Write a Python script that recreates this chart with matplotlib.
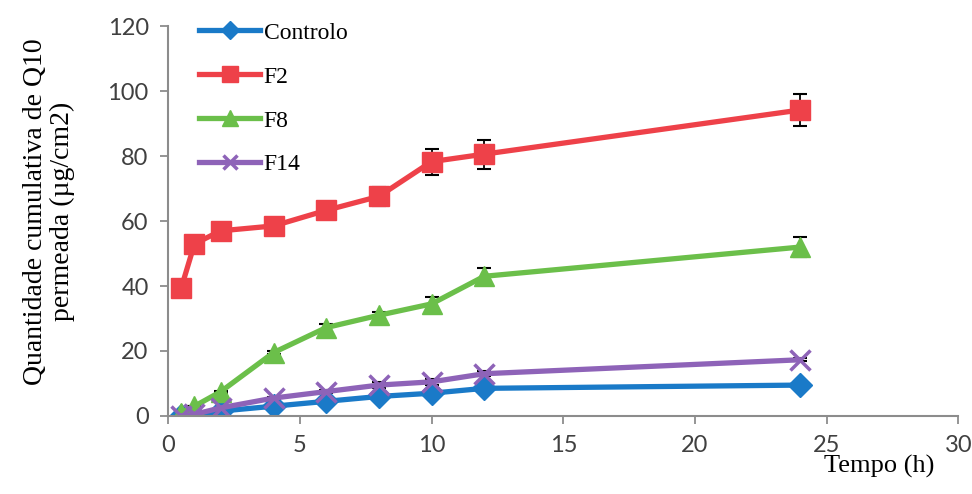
"""Quantidade cumulativa de Q10 permeada vs tempo"""

import matplotlib.pyplot as plt

tempo = [0.5, 1, 2, 4, 6, 8, 10, 12, 24]

controlo = [0.0, 0.3, 1.5, 3.0, 4.5, 6.0, 7.0, 8.5, 9.5]
controlo_err = [0, 0, 0, 0, 0.3, 0.4, 0.5, 0.5, 0.5]

f2 = [39.5, 53.0, 57.0, 58.5, 63.3, 67.6, 78.3, 80.6, 94.2]
f2_err = [0.5, 0.8, 1.0, 1.2, 2.5, 3.0, 4.0, 4.5, 4.8]

f8 = [1.0, 3.0, 7.5, 19.5, 27.2, 31.0, 34.5, 43.0, 52.0]
f8_err = [0, 0, 0.3, 0.5, 1.0, 1.0, 2.0, 2.5, 3.0]

f14 = [0.0, 0.5, 2.5, 5.5, 7.5, 9.5, 10.5, 13.0, 17.3]
f14_err = [0, 0, 0, 0.3, 0.5, 0.8, 1.0, 0.8, 0.5]

series = [
    ('Controlo', controlo, controlo_err, '#1a7ac8', 'D', 12),
    ('F2', f2, f2_err, '#ee4149', 's', 15),
    ('F8', f8, f8_err, '#6bbf4a', '^', 15),
    ('F14', f14, f14_err, '#8e63b8', 'x', 14),
]

if __name__ == '__main__':
    fig = plt.figure(figsize=(9.72, 4.94), dpi=100)
    ax = fig.add_axes([0.173, 0.158, 0.813, 0.789])

    handles = []
    for name, vals, err, color, marker, ms in series:
        ax.errorbar(tempo, vals, yerr=err, fmt='none', ecolor='black',
                    elinewidth=1.3, capsize=5, capthick=1.5, zorder=1)
        mew = 2.5 if marker == 'x' else 1
        h, = ax.plot(tempo, vals, color=color, lw=3.8, marker=marker,
                     markersize=ms, markeredgewidth=mew, markeredgecolor=color,
                     label=name, zorder=2)
        handles.append(h)

    ax.set_xlim(0, 30)
    ax.set_ylim(0, 120)
    ax.set_xticks(range(0, 31, 5))
    ax.set_yticks(range(0, 121, 20))

    for side in ['top', 'right']:
        ax.spines[side].set_visible(False)
    for side in ['left', 'bottom']:
        ax.spines[side].set_color('#8c8c8c')
        ax.spines[side].set_linewidth(1.5)
    ax.tick_params(direction='out', length=6, width=1.3, color='#8c8c8c',
                   labelsize=17, labelcolor='#404040', pad=8)
    for lab in ax.get_xticklabels() + ax.get_yticklabels():
        lab.set_family('Lato')

    ax.set_xlabel('Tempo (h)', family='Liberation Serif', fontsize=19)
    ax.xaxis.set_label_coords(0.9, -0.1)
    ax.set_ylabel('Quantidade cumulativa de Q10\npermeada (µg/cm2)',
                  family='Liberation Serif', fontsize=20, linespacing=1.1)
    ax.yaxis.set_label_coords(-0.118, 0.525)

    ax.legend(handles=handles, loc='upper left', bbox_to_anchor=(0.012, 1.065),
              frameon=False, prop={'family': 'Liberation Serif', 'size': 17},
              handlelength=2.6, labelspacing=0.95, handletextpad=0.15,
              markerscale=0.75)

    fig.savefig('out.png', dpi=100)
